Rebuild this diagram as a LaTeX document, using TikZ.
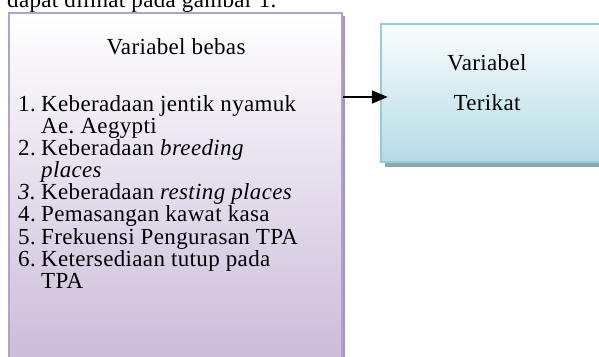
\documentclass[tikz,border=0pt]{standalone}
\usepackage{fontspec}
\setmainfont{Liberation Serif}[LetterSpace=1.5]
\usetikzlibrary{arrows.meta,shadows}
\definecolor{lavline}{HTML}{B3A2C7}
\definecolor{lavbot}{HTML}{C8B8D8}
\definecolor{lavsh}{HTML}{A794C0}
\definecolor{blueline}{HTML}{93CDDD}
\definecolor{bluebot}{HTML}{B4DBE6}
\definecolor{bluetop}{HTML}{FAFDFE}
\definecolor{bluesh}{HTML}{90A6AB}
\frenchspacing
\begin{document}
\begin{tikzpicture}[x=1pt,y=-1pt,
  txt/.style={anchor=base west, inner sep=0pt, font=\fontsize{23}{26}\selectfont},
  ctxt/.style={anchor=base, inner sep=0pt, font=\fontsize{23}{26}\selectfont},
  lavbox/.style={draw=lavline, line width=2pt, top color=white, bottom color=lavbot,
    drop shadow={shadow xshift=3pt, shadow yshift=-3pt, fill=lavsh, opacity=1}},
  bluebox/.style={draw=blueline, line width=2.5pt, top color=bluetop, bottom color=bluebot,
    drop shadow={shadow xshift=4pt, shadow yshift=-5pt, fill=bluesh, opacity=1}},
  conn/.style={line width=2pt, -{Triangle[length=16pt,width=13pt]}}]
\useasboundingbox (0,0) rectangle (599,356);
\clip (0,0) rectangle (599,356);
\node[txt] (top) at (7,7) {dapat dilihat pada gambar 1.};
\node[lavbox, minimum width=333pt, minimum height=367pt] (bebas) at (175.5,196.5) {};
\node[bluebox, minimum width=259pt, minimum height=138pt] (terikat) at (510.5,93) {};
\node[ctxt] (hb) at (176,54) {Variabel bebas};
\node[txt] (n1) at (18,111) {1.};
\node[txt] (t1) at (41,111) {Keberadaan jentik nyamuk};
\node[txt] (t1b) at (41,133) {Ae. Aegypti};
\node[txt] (n2) at (18,155.5) {2.};
\node[txt] (t2) at (41,155.5) {Keberadaan \textit{breeding}};
\node[txt] (t2b) at (41,177.5) {\textit{places}};
\node[txt] (n3) at (18,199.5) {\textit{3}.};
\node[txt] (t3) at (41,199.5) {Keberadaan \textit{resting places}};
\node[txt] (n4) at (18,221.5) {4.};
\node[txt] (t4) at (41,221.5) {Pemasangan kawat kasa};
\node[txt] (n5) at (18,244) {5.};
\node[txt] (t5) at (41,244) {Frekuensi Pengurasan TPA};
\node[txt] (n6) at (18,266) {6.};
\node[txt] (t6) at (41,266) {Ketersediaan tutup pada};
\node[txt] (t6b) at (41,288.5) {TPA};
\node[ctxt] (v1) at (487,70) {Variabel};
\node[ctxt] (v2) at (487,110) {Terikat};
\coordinate (ay) at (0,97);
\draw[conn] (bebas.east |- ay) -- ([xshift=8pt]terikat.west |- ay);
\end{tikzpicture}
\end{document}
